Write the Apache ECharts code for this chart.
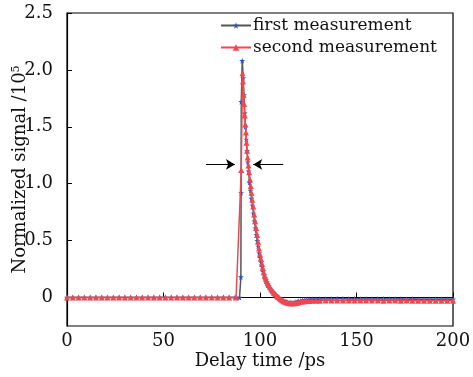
<!DOCTYPE html>
<html>
<head>
<meta charset="utf-8">
<script src="https://cdn.jsdelivr.net/npm/echarts@6/dist/echarts.min.js"></script>
<style>html,body{margin:0;padding:0;background:#fff}#c{width:473px;height:377px}</style>
</head>
<body>
<div id="c"></div>
<script>
// ---- data ----
const seriesNames = ['first measurement', 'second measurement'];
const xTicks = [0, 50, 100, 150, 200];
const yTicks = [0, 0.5, 1.0, 1.5, 2.0, 2.5];

const firstX = [0,3,6,9,12,15,18,21,24,27,30,33,36,39,42,45,48,51,54,57,60,63,66,69,72,75,78,81,84,87,89.4,
  90.1,90.2,90.3,90.8,91.3,91.7,92.1,92.5,92.9,93.3,93.7,94.1,94.6,95.1,95.6,96.1,96.6,97.1,97.6,98.1,98.6,99.1,99.6,
  100.1,100.6,101.1,101.6,102.1,102.6,103.1,103.6,104.1,104.6,105.3,106,106.7,107.4,108.1,108.8,109.5,110.2,110.9,
  111.6,112.3,113,113.7,114.4,115.1,115.8,116.5,117.2,117.9,118.6,119.3,120,121,122,123,124,125.5,127,129,131,
  134,137,140,143,146,149,152,155,158,161,164,167,170,173,176,179,182,185,188,191,194,197,200];
const firstY = [0,0,0,0,0,0,0,0,0,0,0,0,0,0,0,0,0,0,0,0,0,0,0,0,0,0,0,0,0,0,0,
  0.18,0.92,1.72,2.08,1.93,1.78,1.62,1.50,1.39,1.29,1.19,1.11,1.01,0.94,0.87,0.81,0.74,0.67,0.61,0.55,0.50,0.45,0.39,
  0.35,0.31,0.27,0.23,0.20,0.175,0.155,0.135,0.115,0.10,0.08,0.065,0.05,0.035,0.025,0.012,0.0,-0.01,-0.018,
  -0.025,-0.03,-0.035,-0.04,-0.043,-0.045,-0.047,-0.048,-0.047,-0.045,-0.04,-0.036,-0.032,-0.028,-0.024,-0.02,-0.018,-0.016,-0.015,-0.014,-0.013,
  -0.012,-0.012,-0.011,-0.011,-0.012,-0.011,-0.012,-0.012,-0.013,-0.012,-0.013,-0.013,-0.012,-0.013,-0.014,-0.013,-0.014,-0.014,-0.015,-0.014,-0.015,-0.015,-0.015];

const secondX = [0,3,6,9,12,15,18,21,24,27,30,33,36,39,42,45,48,51,54,57,60,63,66,69,72,75,78,81,84,87.6,
  90.3,90.95,91.2,91.5,91.8,92.1,92.4,92.7,93.0,93.3,93.6,94.0,94.4,94.8,95.2,95.6,96.0,96.5,97.0,97.5,98.0,98.5,
  99.0,99.5,100.0,100.5,101.0,101.5,102.0,102.5,103.0,103.5,104.0,104.5,105.2,105.9,106.6,107.3,108.0,108.7,109.4,
  110.1,110.8,111.5,112.2,112.9,113.6,114.3,115.0,115.7,116.4,117.1,117.8,118.5,119.2,120,121,122,123,124,125.5,127,129,131,
  134,137,140,143,146,149,152,155,158,161,164,167,170,173,176,179,182,185,188,191,194,197,200];
const secondY = [0,0,0,0,0,0,0,0,0,0,0,0,0,0,0,0,0,0,0,0,0,0,0,0,0,0,0,0,0,0,
  1.12,1.97,1.90,1.78,1.70,1.60,1.52,1.45,1.36,1.29,1.23,1.16,1.10,1.04,0.98,0.92,0.86,0.80,0.73,0.67,0.61,0.55,
  0.49,0.43,0.38,0.34,0.30,0.26,0.22,0.19,0.165,0.145,0.125,0.11,0.09,0.07,0.055,0.04,0.028,0.015,0.004,
  -0.006,-0.015,-0.022,-0.03,-0.036,-0.041,-0.045,-0.048,-0.05,-0.051,-0.051,-0.05,-0.048,-0.045,-0.042,-0.038,-0.035,-0.033,-0.031,-0.03,-0.029,-0.028,-0.028,
  -0.027,-0.027,-0.026,-0.027,-0.026,-0.027,-0.027,-0.026,-0.027,-0.027,-0.028,-0.027,-0.027,-0.028,-0.027,-0.028,-0.028,-0.028,-0.029,-0.028,-0.029,-0.029,-0.029];

// FWHM annotation arrows (data coordinates): [fromX, toX, y]
const arrowLeft = [72, 87, 1.17];
const arrowRight = [112, 96.5, 1.17];

// ---- chart ----
const zip = (xs, ys) => xs.map((x, i) => [x, ys[i]]);
const FONT = 'DejaVu Serif';
const starPath = 'path://M50,0 L61,35 L98,35 L68,57 L79,91 L50,70 L21,91 L32,57 L2,35 L39,35 Z';

const chart = echarts.init(document.getElementById('c'), null, {renderer: 'canvas'});
chart.setOption({
  animation: false,
  backgroundColor: '#fff',
  grid: {left: 67, right: 20, top: 13, bottom: 51, containLabel: false, outerBoundsMode: 'none',
    show: true, borderColor: '#000', borderWidth: 1.2, backgroundColor: 'transparent'},
  legend: {
    orient: 'vertical', left: 220, top: 17, padding: 0, itemGap: 5,
    itemWidth: 30, itemHeight: 8,
    textStyle: {fontFamily: FONT, fontSize: 17, color: '#111', padding: [0, 0, 0, -3]},
    data: seriesNames
  },
  xAxis: {
    type: 'value', min: 0, max: 200, interval: 50,
    name: 'Delay time /ps', nameLocation: 'middle', nameGap: 26, nameMoveOverlap: false,
    nameTextStyle: {fontFamily: FONT, fontSize: 18, color: '#111'},
    axisLine: {show: true, lineStyle: {color: '#000', width: 1.2}},
    axisTick: {show: true, inside: true, length: 5, lineStyle: {color: '#000'}},
    axisLabel: {fontFamily: FONT, fontSize: 18, color: '#111', margin: 6,
      customValues: xTicks},
    splitLine: {show: false}
  },
  yAxis: {
    type: 'value', min: -0.25, max: 2.5,
    name: 'Normalized signal /10{sup|5}', nameLocation: 'middle', nameGap: 38, nameRotate: 90,
    nameMoveOverlap: false,
    nameTextStyle: {fontFamily: FONT, fontSize: 18, color: '#111',
      rich: {sup: {fontFamily: FONT, fontSize: 11, color: '#111', verticalAlign: 'top', padding: [0, 0, 7, 0]}}},
    axisLine: {show: true, lineStyle: {color: '#000', width: 1.2}},
    axisTick: {show: true, inside: true, length: 5, lineStyle: {color: '#000'}, customValues: yTicks},
    axisLabel: {fontFamily: FONT, fontSize: 18, color: '#111', margin: 14, customValues: yTicks,
      formatter: v => (Math.abs(v) < 1e-9 ? '0' : v.toFixed(1))},
    splitLine: {show: false}
  },
  series: [
    {
      name: seriesNames[0], type: 'line', data: zip(firstX, firstY),
      symbol: starPath, symbolSize: 6, showAllSymbol: true,
      lineStyle: {color: '#555', width: 1.5},
      itemStyle: {color: '#2a52c9'},
      z: 2
    },
    {
      name: seriesNames[1], type: 'line', data: zip(secondX, secondY),
      symbol: 'triangle', symbolSize: 6, showAllSymbol: true,
      lineStyle: {color: '#f0474f', width: 1.5},
      itemStyle: {color: '#f0474f'},
      z: 3,
      markLine: {
        silent: true, symbol: ['none', 'arrow'], symbolSize: [8, 9],
        label: {show: false},
        lineStyle: {color: '#000', width: 1, type: 'solid'},
        data: [
          [{coord: [arrowLeft[0], arrowLeft[2]]}, {coord: [arrowLeft[1], arrowLeft[2]]}],
          [{coord: [arrowRight[0], arrowRight[2]]}, {coord: [arrowRight[1], arrowRight[2]]}]
        ]
      }
    }
  ]
});
</script>
</body>
</html>
